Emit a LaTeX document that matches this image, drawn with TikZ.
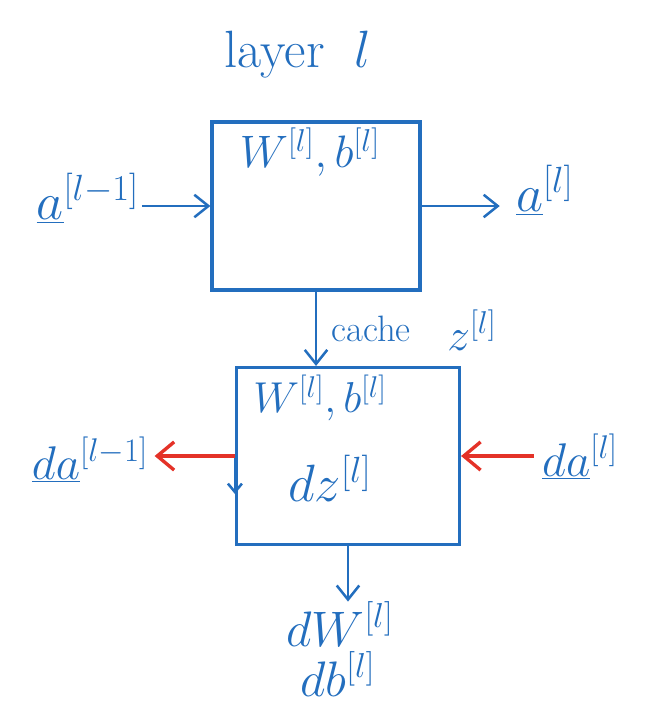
\documentclass[tikz,border=0pt]{standalone}
\usepackage{tikz}
\usetikzlibrary{positioning, arrows.meta}
\definecolor{pen}{RGB}{35,110,190}
\definecolor{redpen}{RGB}{228,50,40}
\newcommand{\lay}[1]{^{\scriptscriptstyle[#1]}}

\begin{document}
\begin{tikzpicture}[x=0.025cm, y=-0.025cm,
        every node/.style={text=pen, inner sep=0pt, font=\Huge},
        lbl/.style={scale=1.5},
        param/.style={scale=1.3},
        layerbox/.style={draw=pen, line width=2.2pt, minimum width=#1},
        flow/.style={draw=pen, line width=1.8pt, -{Straight Barb[length=10pt, width=16pt, line width=1.8pt]}},
        back/.style={draw=redpen, line width=2.4pt, -{Straight Barb[length=12pt, width=20pt, line width=2.4pt]}}
    ]
%
    \useasboundingbox (0,0) rectangle (649,710);
%
    % Title
    \node[lbl] (title) at (298,55) {layer\hspace{0.5cm}$l$};
%
    % Forward block
    \node[layerbox=5.2cm, minimum height=4.2cm] (fwd) at (316,206) {};
    \node[param] (fwdparam) at (310,152) {$W\lay{l}, b\lay{l}$};
%
    \node[lbl] (ain) at (88,198) {$\underline{a}\lay{l-1}$};
    \node[lbl] (aout) at (545,190) {$\underline{a}\lay{l}$};
    \draw[flow, shorten <=0.05cm] (ain.east |- fwd.west) -- (fwd.west);
    \draw[flow, shorten >=0.4cm] (fwd.east) -- (aout.west |- fwd.east);
%
    % Backward block
    \node[layerbox=5.575cm, minimum height=4.425cm] (bwd) at (348,456) {};
    \node[param, scale=0.95] (bwdparam) at (320,398) {$W\lay{l}, b\lay{l}$};
    \node[lbl] (dz) at (330,478) {$dz\lay{l}$};
%
    % Cache
    \draw[flow] (fwd.south) -- (fwd.south |- bwd.north)
        node[midway, right=0.35cm, anchor=west, scale=1.05] (cache) {cache};
    \node[scale=1.3] (zcache) at (472,330) {$z\lay{l}$};
    \draw[flow, -{Straight Barb[length=6pt, width=10pt, line width=1.8pt]}] (bwd.west) -- ++(0,38);
%
    % Backward inputs and outputs
    \node[lbl, scale=0.9] (daprev) at (90,460) {$\underline{da}\lay{l-1}$};
    \node[lbl, scale=0.9] (danext) at (580,457) {$\underline{da}\lay{l}$};
    \draw[back, shorten >=0.15cm] (bwd.west) -- (daprev.east |- bwd.west);
    \draw[back, shorten <=0.2cm] (danext.west |- bwd.east) -- (bwd.east);
%
    \node[lbl, scale=0.95] (dw) at (340,624) {$dW\lay{l}$};
    \node[lbl, scale=0.95] (db) at (338,674) {$db\lay{l}$};
    \draw[flow] (bwd.south) -- (bwd.south |- dw.north);
%
\end{tikzpicture}
\end{document}
